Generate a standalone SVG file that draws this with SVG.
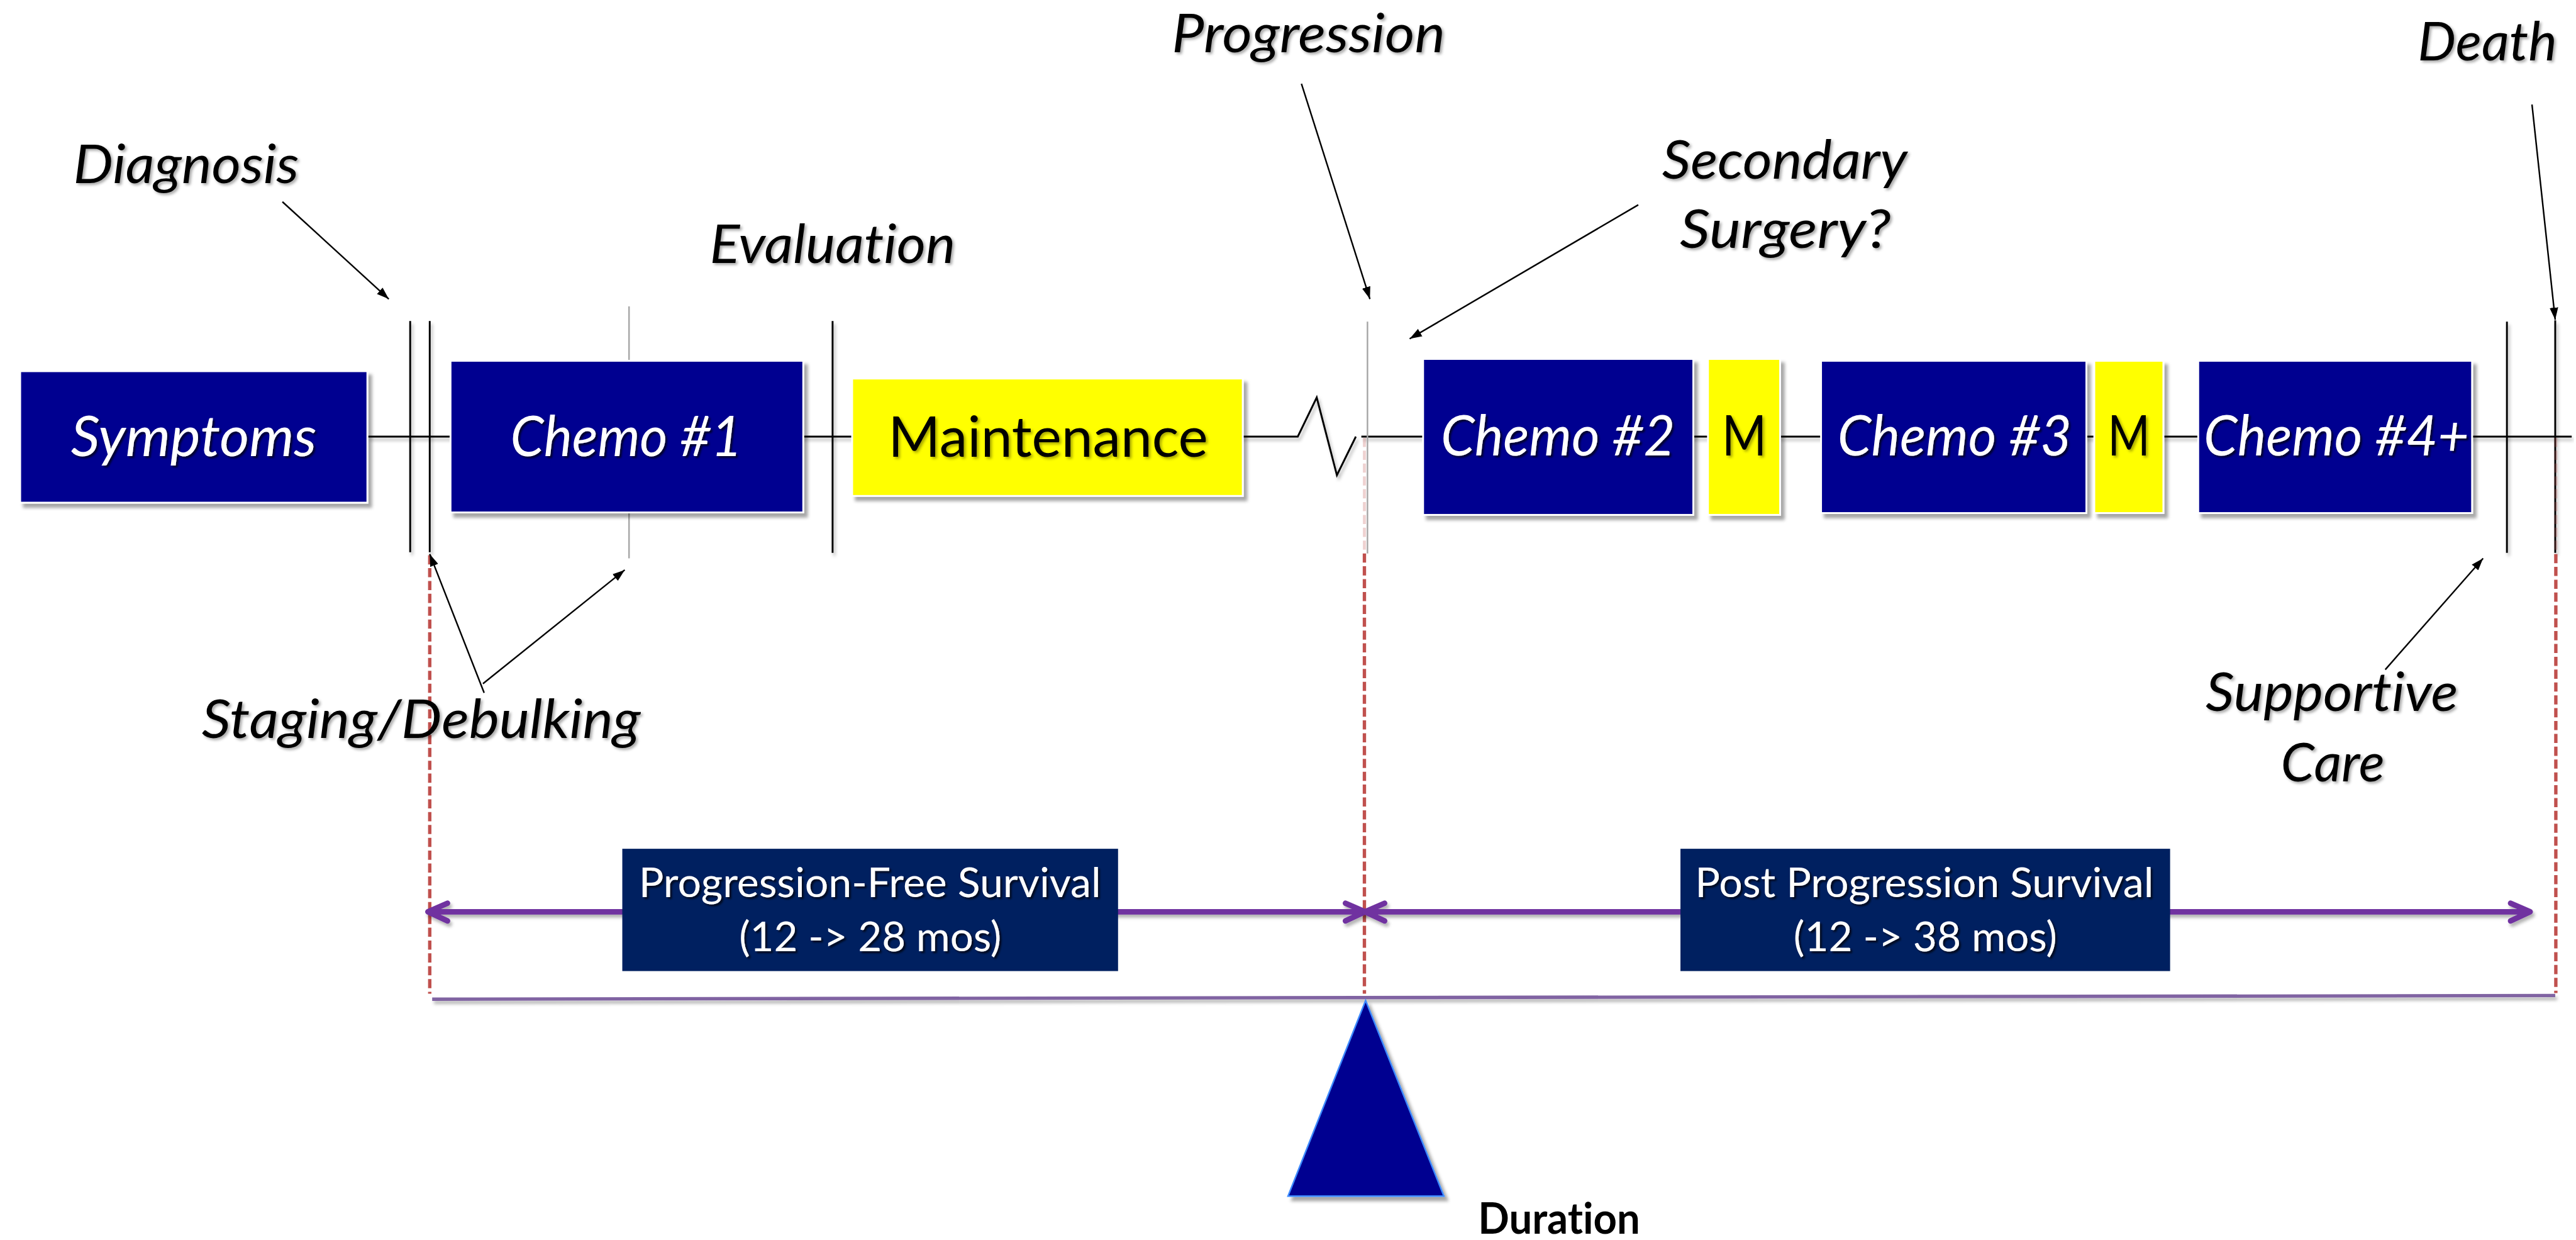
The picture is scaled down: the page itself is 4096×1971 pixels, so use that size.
<svg xmlns="http://www.w3.org/2000/svg" width="4096" height="1971" viewBox="0 0 4096 1971">
<style>
.navy{fill:#000090;stroke:#ffffff;stroke-width:3;filter:url(#boxsh)}
.yel{fill:#FFFF00;stroke:#ffffff;stroke-width:3;filter:url(#boxsh)}
.dk{fill:#002060}
.t{font-family:Lato,"Liberation Sans",sans-serif;font-variant-ligatures:none}
.wi{fill:#ffffff;font-style:italic;font-size:91px;filter:url(#tshw)}
.bk{fill:#000000;font-size:91px;filter:url(#tshb)}
.lab{fill:#000000;font-style:italic;font-size:87px;filter:url(#tshb)}
.pf{fill:#ffffff;font-size:68px;filter:url(#tshw)}
.dur{fill:#000000;font-weight:bold;font-size:70px}
.tl{stroke:#000000;stroke-width:3;fill:none;filter:url(#lsh)}
.vb{stroke:#000000;stroke-width:3;filter:url(#lsh)}
.vg{stroke:#A6A6A6;stroke-width:2.5}
.red{stroke:#C0504D;stroke-width:5.5;stroke-dasharray:15 6;fill:none}
.pink{stroke:#C0504D;stroke-width:5;stroke-dasharray:15 6;opacity:0.25}
.pur{stroke:#7030A0;stroke-width:9;stroke-linecap:round;stroke-linejoin:round;fill:none;filter:url(#lsh)}
.pl{stroke:#8064A2;stroke-width:5.5;filter:url(#lsh)}
.ann{stroke:#000000;stroke-width:2.5;fill:none;marker-end:url(#ah)}
</style>
<defs>
<filter id="boxsh" x="-10%" y="-10%" width="125%" height="130%">
<feDropShadow dx="6" dy="7" stdDeviation="3" flood-color="#000000" flood-opacity="0.35"/>
</filter>
<filter id="tshw" x="-5%" y="-20%" width="115%" height="150%">
<feDropShadow dx="3" dy="3" stdDeviation="1.5" flood-color="#000000" flood-opacity="0.7"/>
</filter>
<filter id="tshb" x="-5%" y="-20%" width="115%" height="150%">
<feDropShadow dx="3" dy="3" stdDeviation="2" flood-color="#000000" flood-opacity="0.35"/>
</filter>
<filter id="lsh" filterUnits="userSpaceOnUse" x="0" y="0" width="4210" height="2026">
<feDropShadow dx="3" dy="5" stdDeviation="2.5" flood-color="#000000" flood-opacity="0.3"/>
</filter>
<marker id="ah" markerUnits="userSpaceOnUse" markerWidth="22" markerHeight="16" refX="20" refY="7" orient="auto">
<path d="M0,0 L20,7 L0,14 z" fill="#000000"/>
</marker>
</defs>
<rect x="0" y="0" width="4096" height="1971" fill="#ffffff"/>
<g transform="scale(0.972)">
<g id="connectors">
<path class="tl" d="M601,714 L2123,714 L2154,650 L2187,777 L2218,714"/>
<line class="tl" x1="2227" y1="714" x2="4207" y2="714"/>
<line class="vb" x1="671" y1="525" x2="671" y2="903"/>
<line class="vb" x1="703" y1="525" x2="703" y2="903"/>
<line class="vg" x1="1029" y1="501" x2="1029" y2="913"/>
<line class="vb" x1="1362" y1="525" x2="1362" y2="904"/>
<line class="vg" x1="2237" y1="526" x2="2237" y2="905"/>
<line class="vb" x1="4101" y1="526" x2="4101" y2="904"/>
<line class="vb" x1="4180" y1="524" x2="4180" y2="904"/>
<line class="red" x1="703" y1="908" x2="703" y2="1625"/>
<line class="pink" x1="2232" y1="716" x2="2232" y2="905"/>
<line class="red" x1="2232" y1="905" x2="2232" y2="1625"/>
<line class="pink" x1="4181" y1="716" x2="4181" y2="904"/>
<line class="red" x1="4181" y1="906" x2="4181" y2="1624"/>
<path class="pur" d="M700,1491 L2233,1491 M732,1477 L700,1491 L732,1506 M2201,1477 L2233,1491 L2201,1506"/>
<path class="pur" d="M2233,1491 L4139,1491 M2265,1477 L2233,1491 L2265,1506 M4107,1477 L4139,1491 L4107,1506"/>
<line class="pl" x1="707" y1="1634" x2="4180" y2="1628"/>
<line class="ann" x1="462" y1="330" x2="636" y2="489"/>
<line class="ann" x1="2129" y1="137" x2="2241" y2="489"/>
<line class="ann" x1="2680" y1="335" x2="2306" y2="554"/>
<line class="ann" x1="4142" y1="171" x2="4180" y2="523"/>
<line class="ann" x1="792" y1="1133" x2="703" y2="906"/>
<line class="ann" x1="790" y1="1118" x2="1022" y2="932"/>
<line class="ann" x1="3902" y1="1095" x2="4062" y2="913"/>
</g>
<g id="node-symptoms">
<rect class="navy" x="33" y="607" width="568" height="215"/>
<text class="t wi" x="116" y="746" textLength="402" lengthAdjust="spacingAndGlyphs">Symptoms</text>
</g>
<g id="node-chemo1">
<rect class="navy" x="737" y="590" width="577" height="248"/>
<text class="t wi" x="835" y="746" textLength="379" lengthAdjust="spacingAndGlyphs">Chemo #1</text>
</g>
<g id="node-maintenance">
<rect class="yel" x="1394" y="619" width="639" height="192"/>
<text class="t bk" x="1453" y="747" textLength="523" lengthAdjust="spacingAndGlyphs">Maintenance</text>
</g>
<g id="node-chemo2">
<rect class="navy" x="2328" y="587" width="442" height="255"/>
<text class="t wi" x="2357" y="745" textLength="383" lengthAdjust="spacingAndGlyphs">Chemo #2</text>
</g>
<g id="node-m1">
<rect class="yel" x="2794" y="587" width="118" height="255"/>
<text class="t bk" x="2817" y="745" textLength="73" lengthAdjust="spacingAndGlyphs">M</text>
</g>
<g id="node-chemo3">
<rect class="navy" x="2979" y="590" width="434" height="249"/>
<text class="t wi" x="3006" y="745" textLength="383" lengthAdjust="spacingAndGlyphs">Chemo #3</text>
</g>
<g id="node-m2">
<rect class="yel" x="3426" y="590" width="113" height="249"/>
<text class="t bk" x="3448" y="745" textLength="69" lengthAdjust="spacingAndGlyphs">M</text>
</g>
<g id="node-chemo4">
<rect class="navy" x="3596" y="590" width="448" height="249"/>
<text class="t wi" x="3605" y="745" textLength="434" lengthAdjust="spacingAndGlyphs">Chemo #4+</text>
</g>
<g id="node-pfs">
<rect class="dk" x="1018" y="1388" width="811" height="200"/>
<text class="t pf" x="1045" y="1467" textLength="756" lengthAdjust="spacingAndGlyphs">Progression-Free Survival</text>
<text class="t pf" x="1209" y="1556" textLength="429" lengthAdjust="spacingAndGlyphs">(12 -&gt; 28 mos)</text>
</g>
<g id="node-pps">
<rect class="dk" x="2749" y="1388" width="801" height="200"/>
<text class="t pf" x="2773" y="1467" textLength="750" lengthAdjust="spacingAndGlyphs">Post Progression Survival</text>
<text class="t pf" x="2934" y="1556" textLength="431" lengthAdjust="spacingAndGlyphs">(12 -&gt; 38 mos)</text>
</g>
<g id="node-fulcrum">
<polygon points="2234,1636 2107,1956 2362,1956" fill="#000090" stroke="#3D8BFF" stroke-width="2.5" filter="url(#boxsh)"/>
</g>
<g id="label-diagnosis"><text class="t lab" x="120" y="299" textLength="369" lengthAdjust="spacingAndGlyphs">Diagnosis</text></g>
<g id="label-evaluation"><text class="t lab" x="1161" y="430" textLength="402" lengthAdjust="spacingAndGlyphs">Evaluation</text></g>
<g id="label-progression"><text class="t lab" x="1917" y="85" textLength="447" lengthAdjust="spacingAndGlyphs">Progression</text></g>
<g id="label-secondary">
<text class="t lab" x="2719" y="292" textLength="401" lengthAdjust="spacingAndGlyphs">Secondary</text>
<text class="t lab" x="2748" y="405" textLength="345" lengthAdjust="spacingAndGlyphs">Surgery?</text>
</g>
<g id="label-death"><text class="t lab" x="3955" y="99" textLength="228" lengthAdjust="spacingAndGlyphs">Death</text></g>
<g id="label-staging"><text class="t lab" x="330" y="1207" textLength="718" lengthAdjust="spacingAndGlyphs">Staging/Debulking</text></g>
<g id="label-supportive">
<text class="t lab" x="3608" y="1163" textLength="413" lengthAdjust="spacingAndGlyphs">Supportive</text>
<text class="t lab" x="3731" y="1278" textLength="170" lengthAdjust="spacingAndGlyphs">Care</text>
</g>
<g id="label-duration"><text class="t dur" x="2418" y="2018" textLength="265" lengthAdjust="spacingAndGlyphs">Duration</text></g>
</g>
</svg>
